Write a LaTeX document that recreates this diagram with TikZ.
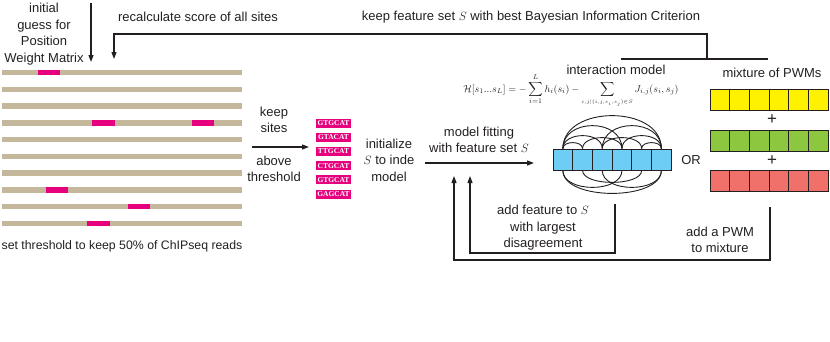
\documentclass[tikz,border=0pt]{standalone}
\usepackage{amsmath}
\usepackage{fontspec}
\setmainfont{Liberation Sans}
\newfontfamily\seqfont{Liberation Serif}
\usetikzlibrary{arrows.meta,calc}
\definecolor{sand}{RGB}{197,183,156}
\definecolor{hot}{RGB}{230,0,126}
\definecolor{sky}{RGB}{110,205,245}
\definecolor{lemon}{RGB}{255,242,0}
\definecolor{leaf}{RGB}{141,198,63}
\definecolor{salmon}{RGB}{240,112,106}
\definecolor{ink}{RGB}{35,31,32}

\begin{document}
\begin{tikzpicture}[x=1pt, y=-1pt,
  lbl/.style={align=center, font=\fontsize{13}{16.5}\selectfont, text=ink, inner sep=0pt},
  bar/.style={fill=sand, minimum width=240pt, minimum height=5.5pt, inner sep=0pt},
  hit/.style={fill=hot, minimum width=22.5pt, minimum height=5.5pt, inner sep=0pt},
  seq/.style={fill=hot, text=white, font=\seqfont\bfseries\fontsize{7.5}{8}\selectfont, minimum width=35pt, minimum height=9pt, inner sep=0pt},
  cell/.style={draw=ink, line width=0.8pt, minimum width=19.7pt, minimum height=21pt, inner sep=0pt},
  arr/.style={-{Triangle[length=7pt, width=5pt]}, line width=1.2pt, ink},
  ln/.style={line width=1.2pt, ink},
  link/.style={line width=0.9pt, ink}
]
\useasboundingbox (0,0) rectangle (830,341);
% reads and sites
\foreach \i in {1,...,10} \node[bar] (r\i) at (122,{55.75+16.75*\i}) {};
\foreach \x/\i [count=\k] in {49/1,103.5/4,203/4,57/8,139/9,98.5/10} \node[hit] (h\k) at (r\i -| \x,0) {};
\node[lbl] (init) at (44,34) {initial\\guess for\\Position\\Weight Matrix};
\node[lbl, font=\fontsize{12.3}{14}\selectfont] (thr) at (122,246) {set threshold to keep 50\% of ChIPseq reads};
\coordinate (initTop) at (91,3);
\coordinate (initTip) at (91,62);
\draw[arr] (initTop) -- (initTip);
% keep sites above threshold
\node[lbl] (keep) at (274,120) {keep\\sites};
\node[lbl] (above) at (274,169) {above\\threshold};
\coordinate (keepL) at (252,147);
\coordinate (keepR) at (309,147);
\draw[arr] (keepL) -- (keepR);
\foreach \t [count=\k] in {GTGCAT,GTACAT,TTGCAT,CTGCAT,GTGCAT,GAGCAT} \node[seq] (q\k) at (333.5,{108.8+14.2*\k}) {\t};
\node[lbl] (inde) at (389,160) {initialize\\$S$ to inde\\model};
% model fitting
\node[lbl] (fit) at (479,140) {model fitting\\with feature set $S$};
\coordinate (fitL) at (425,163);
\coordinate (fitR) at (534,163);
\draw[arr] (fitL) -- (fitR);
% interaction model
\node[lbl] (imod) at (616,70) {interaction model};
\node[text=ink, font=\fontsize{10}{11}\selectfont, inner sep=0pt, anchor=base] (ham) at (571,92) {$\displaystyle \mathcal{H}[s_1...s_L]=-\sum_{i=1}^{L}h_i(s_i)-\sum_{\scriptscriptstyle i,j|(i,j,s_i,s_j)\in S}J_{i,j}(s_i,s_j)$};
\foreach \k in {1,...,6} \node[cell, fill=sky] (i\k) at ({553+19.7*(\k-0.5)},159.5) {};
\foreach \a/\b/\h in {1/6/33,1/4/23,3/6/23,1/3/13,2/4/11,4/6/13,3/5/11,1/2/6,5/6/6}
  \draw[link] (i\a.north) .. controls +(0,{-1.333*\h}) and +(0,{-1.333*\h}) .. (i\b.north);
\foreach \a/\b/\h in {1/6/23,1/4/17,3/6/17,2/5/12}
  \draw[link] (i\a.south) .. controls +(0,{1.333*\h}) and +(0,{1.333*\h}) .. (i\b.south);
\node[lbl] (or) at (691,160) {OR};
% mixture of PWMs
\node[lbl] (mix) at (772,73) {mixture of PWMs};
\foreach \k in {1,...,6} {
  \node[cell, fill=lemon] (y\k) at ({710+19.7*(\k-0.5)},99.5) {};
  \node[cell, fill=leaf] (g\k) at ({710+19.7*(\k-0.5)},141) {};
  \node[cell, fill=salmon] (p\k) at ({710+19.7*(\k-0.5)},181) {};
}
\node[lbl, font=\fontsize{17}{17}\selectfont] (plus1) at (772,120) {+};
\node[lbl, font=\fontsize{17}{17}\selectfont] (plus2) at (772,161) {+};
% keep best BIC, recalculate scores
\node[lbl] (bic) at (531,17) {keep feature set $S$ with best Bayesian Information Criterion};
\node[lbl] (recalc) at (198,17) {recalculate score of all sites};
\coordinate (brL) at (621,59);
\coordinate (brR) at (768,59);
\coordinate (brM) at (707,59);
\coordinate (recTip) at (114,59);
\draw[ln] (brL) -- (brR);
\draw[arr] (brM) -- ++(0,-25) -| (recTip);
% feedback loops
\coordinate (upA) at (454,176);
\coordinate (upB) at (470,176);
\coordinate (fbA) at (615,204);
\coordinate (fbB) at (770,207);
\draw[arr] (fbA) -- ++(0,49) -| (upB);
\draw[arr] (fbB) -- ++(0,53) -| (upA);
\node[lbl] (addS) at (543,228) {add feature to $S$\\with largest\\disagreement};
\node[lbl] (addP) at (720,240) {add a PWM\\to mixture};
\end{tikzpicture}
\end{document}
